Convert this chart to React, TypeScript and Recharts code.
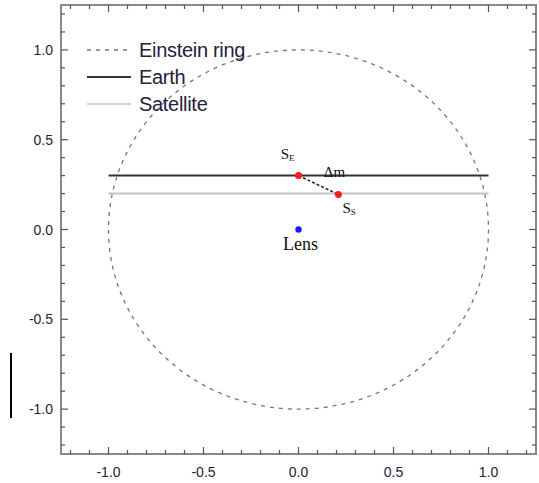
import {
  ComposedChart, Line, Scatter, XAxis, YAxis, ReferenceArea, Legend,
} from "recharts";

// source trajectories as seen from Earth and from the satellite
const earthPath = [{ x: -1.0, y: 0.3 }, { x: 1.0, y: 0.3 }];
const satellitePath = [{ x: -1.0, y: 0.2 }, { x: 1.0, y: 0.2 }];

// source positions at the same instant, and the offset between them
const sourceEarth = [{ x: 0, y: 0.3, label: "E" }];
const sourceSatellite = [{ x: 0.21, y: 0.195, label: "S" }];
const deltaM = [{ x: 0, y: 0.3 }, { x: 0.21, y: 0.195 }];
const lens = [{ x: 0, y: 0 }];

const ringRadius = 1;

const axisDomain: [number, number] = [-1.25, 1.25];
const axisTicks = [
  -1.2, -1.1, -1.0, -0.9, -0.8, -0.7, -0.6, -0.5, -0.4, -0.3, -0.2, -0.1,
  0, 0.1, 0.2, 0.3, 0.4, 0.5, 0.6, 0.7, 0.8, 0.9, 1.0, 1.1, 1.2,
];

const legendItems = ["Einstein ring", "Earth", "Satellite"];

const PLOT_TOP = 5;
const PLOT_RIGHT = 536;
const TICK_COLOR = "#555";
const TEXT_COLOR = "#22223a";

const isMajor = (v: number) => Math.abs(v * 2 - Math.round(v * 2)) < 1e-6;

function XTick(props: any) {
  const { x, y, payload } = props;
  const v = payload.value as number;
  const len = isMajor(v) ? 7 : 4;
  return (
    <g>
      <line x1={x} x2={x} y1={y} y2={y - len} stroke={TICK_COLOR} strokeWidth={1.2} />
      <line x1={x} x2={x} y1={PLOT_TOP} y2={PLOT_TOP + len} stroke={TICK_COLOR} strokeWidth={1.2} />
      {isMajor(v) && (
        <text x={x} y={y + 23} textAnchor="middle" fontSize={14}
          fontFamily="Liberation Sans, Arial, sans-serif" fill={TEXT_COLOR}>
          {v.toFixed(1)}
        </text>
      )}
    </g>
  );
}

function YTick(props: any) {
  const { x, y, payload } = props;
  const v = payload.value as number;
  const len = isMajor(v) ? 7 : 4;
  return (
    <g>
      <line x1={x} x2={x + len} y1={y} y2={y} stroke={TICK_COLOR} strokeWidth={1.2} />
      <line x1={PLOT_RIGHT - len} x2={PLOT_RIGHT} y1={y} y2={y} stroke={TICK_COLOR} strokeWidth={1.2} />
      {isMajor(v) && (
        <text x={x - 8} y={y + 5} textAnchor="end" fontSize={14}
          fontFamily="Liberation Sans, Arial, sans-serif" fill={TEXT_COLOR}>
          {v.toFixed(1)}
        </text>
      )}
    </g>
  );
}

const serif = "Liberation Serif, Times New Roman, serif";

function EarthSource(props: any) {
  const { cx, cy } = props;
  return (
    <g>
      <circle cx={cx} cy={cy} r={3.5} fill="#ff1a1a" />
      <text x={cx - 4} y={cy - 17} textAnchor="end" fontFamily={serif} fontSize={15} fill="#111">
        S<tspan fontSize={9} dy={2}>E</tspan>
      </text>
      <text x={cx + 36} y={cy + 1} textAnchor="middle" fontFamily={serif} fontSize={15} fill="#111">
        Δm
      </text>
    </g>
  );
}

function SatelliteSource(props: any) {
  const { cx, cy } = props;
  return (
    <g>
      <circle cx={cx} cy={cy} r={3.5} fill="#ff1a1a" />
      <text x={cx + 4} y={cy + 19} fontFamily={serif} fontSize={15} fill="#111">
        S<tspan fontSize={9} dy={2}>S</tspan>
      </text>
    </g>
  );
}

function LensMark(props: any) {
  const { cx, cy } = props;
  return (
    <g>
      <circle cx={cx} cy={cy} r={3.2} fill="#1a1aff" />
      <text x={cx + 2} y={cy + 20} textAnchor="middle" fontFamily={serif} fontSize={18} fill="#111">
        Lens
      </text>
    </g>
  );
}

function RingShape(props: any) {
  const { x, y, width, height } = props;
  return (
    <ellipse cx={x + width / 2} cy={y + height / 2} rx={width / 2} ry={height / 2}
      fill="none" stroke="#777" strokeWidth={1.3} strokeDasharray="4 5" />
  );
}

function LegendBox() {
  const styles = [
    { stroke: "#777", width: 1.3, dash: "4 5" },
    { stroke: "#333", width: 2, dash: undefined },
    { stroke: "#c4c4c4", width: 1.6, dash: undefined },
  ];
  return (
    <svg width={200} height={90}>
      {legendItems.map((name, i) => (
        <g key={name} transform={`translate(0, ${14 + i * 27})`}>
          <line x1={0} x2={44} y1={0} y2={0} stroke={styles[i].stroke}
            strokeWidth={styles[i].width} strokeDasharray={styles[i].dash} />
          <text x={52} y={7} fontSize={20} fontFamily="Liberation Sans, Arial, sans-serif"
            fill={TEXT_COLOR} letterSpacing={-0.3}>
            {name}
          </text>
        </g>
      ))}
    </svg>
  );
}

export default function App() {
  return (
    <div style={{ position: "absolute", left: 0, top: 0, width: 539, height: 483, background: "#fff" }}>
      <div style={{ position: "absolute", left: 10, top: 353, width: 2, height: 65, background: "#000" }} />
      <ComposedChart width={539} height={483} margin={{ top: 5, right: 3, left: 0, bottom: 0 }}>
        <XAxis type="number" dataKey="x" domain={axisDomain} ticks={axisTicks} interval={0}
          allowDataOverflow height={29} tickSize={0} tickMargin={0} axisLine={false} tick={<XTick />} />
        <YAxis type="number" dataKey="y" domain={axisDomain} ticks={axisTicks} interval={0}
          allowDataOverflow width={61} tickSize={0} tickMargin={0} axisLine={false} tick={<YTick />} />
        <Legend layout="vertical" align="center" verticalAlign="middle"
          wrapperStyle={{ position: "absolute", left: 87, top: 36, width: 200 }}
          content={() => <LegendBox />} />
        <ReferenceArea x1={-ringRadius} x2={ringRadius} y1={-ringRadius} y2={ringRadius}
          shape={<RingShape />} />
        <Line data={satellitePath} dataKey="y" stroke="#c4c4c4" strokeWidth={2} dot={false}
          isAnimationActive={false} />
        <Line data={earthPath} dataKey="y" stroke="#333" strokeWidth={2} dot={false}
          isAnimationActive={false} />
        <Line data={deltaM} dataKey="y" stroke="#222" strokeWidth={1.5} strokeDasharray="3 2"
          dot={false} isAnimationActive={false} />
        <Scatter data={lens} shape={<LensMark />} isAnimationActive={false} />
        <Scatter data={sourceEarth} shape={<EarthSource />} isAnimationActive={false} />
        <Scatter data={sourceSatellite} shape={<SatelliteSource />} isAnimationActive={false} />
        <ReferenceArea x1={axisDomain[0]} x2={axisDomain[1]} y1={axisDomain[0]} y2={axisDomain[1]}
          fill="none" stroke="#888" strokeWidth={2} fillOpacity={0} />
      </ComposedChart>
    </div>
  );
}
